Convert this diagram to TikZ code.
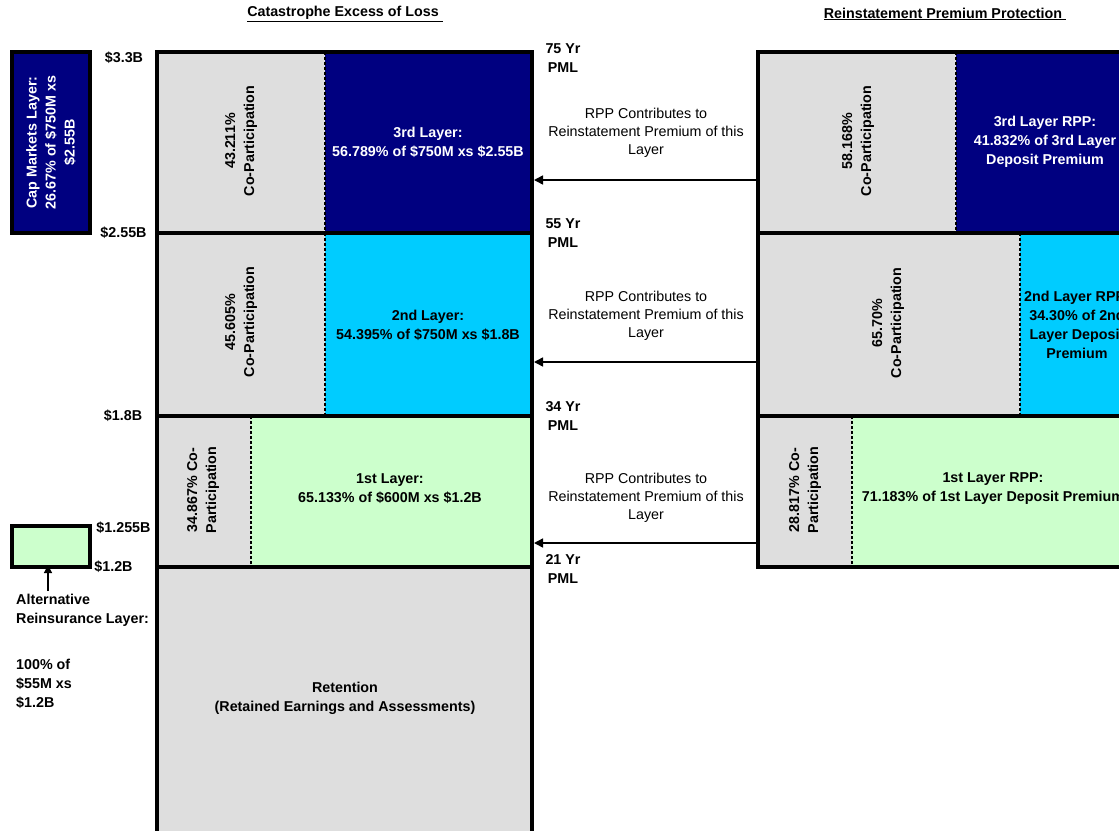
\documentclass[tikz,border=0pt]{standalone}
\usepackage{fontspec}
\setmainfont{Liberation Sans}
\usetikzlibrary{arrows.meta}
\definecolor{navy}{RGB}{0,0,128}
\definecolor{skyc}{RGB}{0,204,255}
\definecolor{mint}{RGB}{204,255,204}
\definecolor{stip}{RGB}{222,222,222}
\begin{document}
\begin{tikzpicture}[x=1pt,y=-1pt,
  lbl/.style={font=\fontsize{14.3}{19}\selectfont\bfseries, align=center, inner sep=0pt},
  reg/.style={font=\fontsize{14.3}{18}\selectfont, align=center, inner sep=0pt},
  rot/.style={lbl, rotate=90},
  frame/.style={line width=4pt},
  divider/.style={line width=1.5pt, dash pattern=on 3pt off 2pt},
  feed/.style={line width=1.5pt, -{Triangle[length=9pt,width=9pt]}},
  smallfeed/.style={line width=1.2pt, -{Triangle[length=8pt,width=8pt]}}
]
\useasboundingbox (0,0) rectangle (1119,830);
\clip (0,0) rectangle (1119,830);

% ---------- titles
\node[lbl] (t1) at (345,14) {\underline{Catastrophe Excess of Loss\ }};
\node[lbl] (t2) at (945,14) {\underline{Reinstatement Premium Protection\ }};

% ---------- left column fills
\fill[stip] (157,52) rectangle (325,233);
\fill[navy] (325,52) rectangle (532,233);
\fill[stip] (157,233) rectangle (325,416);
\fill[skyc] (325,233) rectangle (532,416);
\fill[stip] (157,416) rectangle (251,567);
\fill[mint] (251,416) rectangle (532,567);
\fill[stip] (157,567) rectangle (532,860);
\draw[divider] (325,52) -- (325,233);
\draw[divider] (325,233) -- (325,416);
\draw[divider] (251,416) -- (251,567);
\draw[frame] (157,52) rectangle (532,233);
\draw[frame] (157,233) rectangle (532,416);
\draw[frame] (157,416) rectangle (532,567);
\draw[frame] (157,567) rectangle (532,860);

% ---------- right column fills
\fill[stip] (758,52) rectangle (956,233);
\fill[navy] (956,52) rectangle (1200,233);
\fill[stip] (758,233) rectangle (1020,416);
\fill[skyc] (1020,233) rectangle (1200,416);
\fill[stip] (758,416) rectangle (852,567);
\fill[mint] (852,416) rectangle (1200,567);
\draw[divider] (956,52) -- (956,233);
\draw[divider] (1020,233) -- (1020,416);
\draw[divider] (852,416) -- (852,567);
\draw[frame] (758,52) rectangle (1200,233);
\draw[frame] (758,233) rectangle (1200,416);
\draw[frame] (758,416) rectangle (1200,567);

% ---------- side boxes
\node[draw, frame, fill=navy, minimum width=78pt, minimum height=181pt, inner sep=0pt, outer sep=0pt, anchor=north west] (cap) at (12,52) {};
\node[rot, text=white] (captext) at (cap.center) {Cap Markets Layer:\\26.67\% of \$750M xs\\\$2.55B};
\node[draw, frame, fill=mint, minimum width=78pt, minimum height=41pt, inner sep=0pt, outer sep=0pt, anchor=north west] (alt) at (12,526) {};
\coordinate (alttail) at (48,591);
\draw[smallfeed] (alttail) -- ([yshift=2pt]alttail |- alt.south);
\node[lbl, align=left, anchor=west] (alttext) at (16,610.5) {Alternative\\Reinsurance Layer:};
\node[lbl, align=left, anchor=west] (alttext2) at (16,684) {100\% of\\\$55M xs\\\$1.2B};

% ---------- dollar labels
\node[lbl] (d1) at (124,58) {\$3.3B};
\node[lbl] (d2) at (123.5,233) {\$2.55B};
\node[lbl] (d3) at (123,416) {\$1.8B};
\node[lbl] (d4) at (123.5,528) {\$1.255B};
\node[lbl] (d5) at (113.5,567) {\$1.2B};

% ---------- PML labels
\node[lbl] (p1) at (563,58) {75 Yr\\PML};
\node[lbl] (p2) at (563,233) {55 Yr\\PML};
\node[lbl] (p3) at (563,416) {34 Yr\\PML};
\node[lbl] (p4) at (563,569) {21 Yr\\PML};

% ---------- RPP contributions
\node[reg] (c3) at (646,133) {RPP Contributes to\\Reinstatement Premium of this\\Layer};
\node[reg] (c2) at (646,316) {RPP Contributes to\\Reinstatement Premium of this\\Layer};
\node[reg] (c1) at (646,498) {RPP Contributes to\\Reinstatement Premium of this\\Layer};
\coordinate (r3) at (756,180); \coordinate (l3) at (534,180);
\coordinate (r2) at (756,362); \coordinate (l2) at (534,362);
\coordinate (r1) at (756,543); \coordinate (l1) at (534,543);
\draw[feed] (r3) -- (l3);
\draw[feed] (r2) -- (l2);
\draw[feed] (r1) -- (l1);

% ---------- cell texts left
\node[rot] (co3) at (241,141) {43.211\%\\Co-Participation};
\node[lbl, text=white] (x3) at (428,142.5) {3rd Layer:\\56.789\% of \$750M xs \$2.55B};
\node[rot] (co2) at (241,322) {45.605\%\\Co-Participation};
\node[lbl] (x2) at (428,325) {2nd Layer:\\54.395\% of \$750M xs \$1.8B};
\node[rot] (co1) at (203,490) {34.867\% Co-\\Participation};
\node[lbl] (x1) at (390,489) {1st Layer:\\65.133\% of \$600M xs \$1.2B};
\node[lbl] (ret) at (345,698.5) {Retention\\(Retained Earnings and Assessments)};

% ---------- cell texts right
\node[rot] (rco3) at (858,141) {58.168\%\\Co-Participation};
\node[lbl, text=white] (rx3) at (1045,142) {3rd Layer RPP:\\41.832\% of 3rd Layer\\Deposit Premium};
\node[rot] (rco2) at (888,323) {65.70\%\\Co-Participation};
\node[lbl] (rx2) at (1077,324.5) {2nd Layer RPP:\\34.30\% of 2nd\\Layer Deposit\\Premium};
\node[rot] (rco1) at (805,490) {28.817\% Co-\\Participation};
\node[lbl] (rx1) at (993,489) {1st Layer RPP:\\71.183\% of 1st Layer Deposit Premium};
\end{tikzpicture}
\end{document}
